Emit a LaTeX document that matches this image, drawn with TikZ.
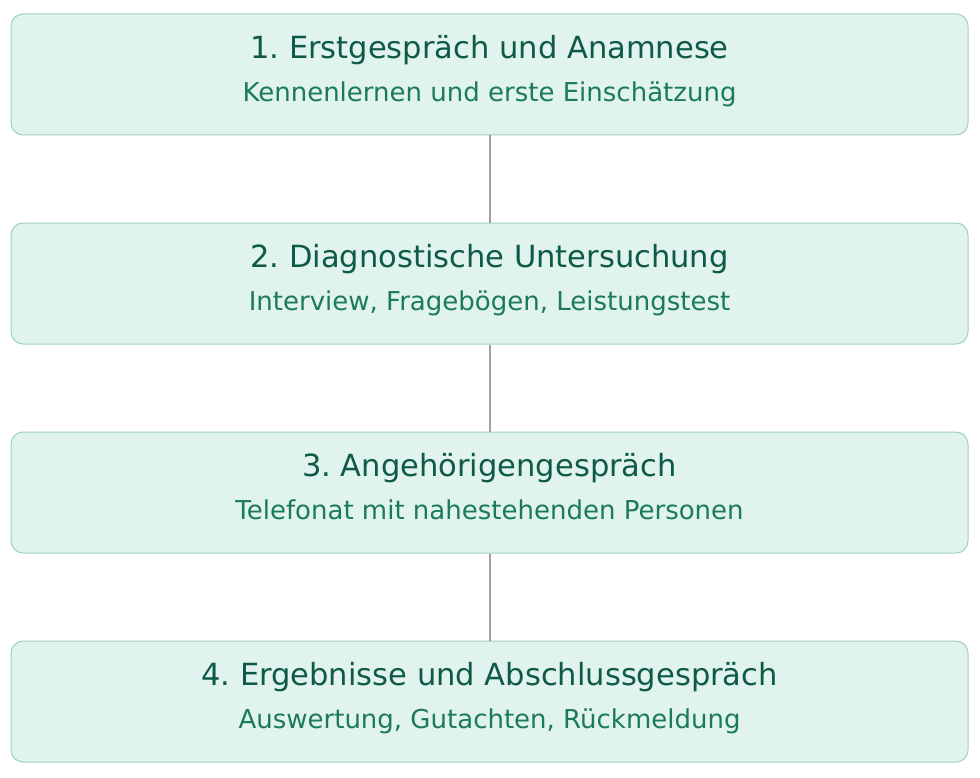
\documentclass[tikz,border=0pt]{standalone}
\usepackage{fontspec}
\setmainfont{DejaVu Sans}
\usetikzlibrary{calc,positioning}
\definecolor{boxfill}{HTML}{E1F3EE}
\definecolor{boxline}{HTML}{9FD1BF}
\definecolor{kopfgruen}{HTML}{0E5A45}
\definecolor{zeilegruen}{HTML}{1B7A5C}
\definecolor{verbinder}{HTML}{A0A0A0}

\begin{document}
\frenchspacing
\begin{tikzpicture}[x=0.75pt,y=-0.75pt,
    stepbox/.style={draw=boxline,fill=boxfill,rounded corners=9pt,line width=0.75pt,
      minimum width=717.75pt,minimum height=90.75pt,inner sep=0pt},
    kopf/.style={anchor=base,text=kopfgruen,font=\fontsize{22.9}{27}\selectfont},
    zeile/.style={anchor=base,text=zeilegruen,font=\fontsize{19.5}{23}\selectfont},
    verbindung/.style={draw=verbinder,line width=1.5pt}]
            \useasboundingbox (0,0) rectangle (980,777);
            \foreach \n/\kopftext/\zeiletext in {
              1/{1. Erstgespräch und Anamnese}/{Kennenlernen und erste Einschätzung},
              2/{2. Diagnostische Untersuchung}/{Interview, Fragebögen, Leistungstest},
              3/{3. Angehörigengespräch}/{Telefonat mit nahestehenden Personen},
              4/{4. Ergebnisse und Abschlussgespräch}/{Auswertung, Gutachten, Rückmeldung}}{
            \node[stepbox] (s\n) at (489.5,{74.5+209*(\n-1)}) {};
            \node[kopf] (k\n) at ($ (s\n.north)+(0,45) $) {\kopftext};
            \node[zeile] (z\n) at ($ (s\n.north)+(0,88) $) {\zeiletext};
            }
            \foreach \n [evaluate=\n as \m using int(\n+1)] in {1,2,3}{
            \draw[verbindung] (s\n.south) -- (s\m.north);
            }
        \end{tikzpicture}
\end{document}
